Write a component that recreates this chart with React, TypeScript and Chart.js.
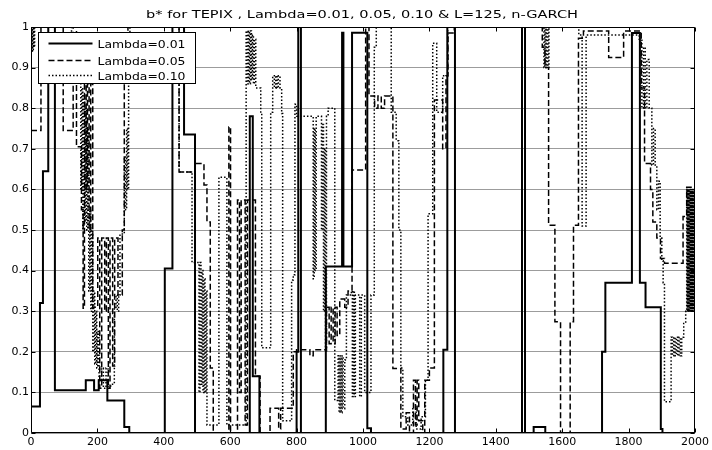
import { useEffect, useRef } from 'react';
import { Chart, registerables } from 'chart.js';

Chart.register(...registerables);

const chartTitle = 'b* for TEPIX , Lambda=0.01, 0.05, 0.10 & L=125, n-GARCH';
const seriesLabels = ['Lambda=0.01', 'Lambda=0.05', 'Lambda=0.10'];
const xTickLabels = ['0', '200', '400', '600', '800', '1000', '1200', '1400', '1600', '1800', '2000'];
const yTickLabels = ['0', '0.1', '0.2', '0.3', '0.4', '0.5', '0.6', '0.7', '0.8', '0.9', '1'];

// Step series: each value holds from its x until the next x.
const lambda001X = [
  0, 27, 36, 52, 72, 165, 190, 204, 230, 281,
  296, 403, 426, 461, 494, 659, 668, 688, 800, 805,
  813, 888, 937, 941, 967, 1013, 1024, 1242, 1254, 1277,
  1479, 1488, 1514, 1549, 1720, 1730, 1810, 1834, 1851, 1897,
  1902, 2000,
];
const lambda001Y = [
  0.065, 0.32, 0.645, 1, 0.105, 0.13, 0.105, 0.13, 0.08, 0.015,
  0, 0.405, 1, 0.735, 0, 0.78, 0.14, 0, 0.2, 1,
  0, 0.41, 0.986, 0.41, 0.986, 0.012, 0, 0.205, 1, 0,
  1, 0, 0.015, 0, 0.2, 0.37, 0.985, 0.37, 0.31, 0.01,
  0, 0,
];

const lambda005X = [
  0, 30, 97, 127, 137, 152, 157, 161, 166, 170,
  175, 180, 186, 201, 207, 213, 222, 227, 233, 238,
  246, 252, 262, 275, 281, 292, 446, 494, 521, 530,
  540, 549, 596, 601, 622, 628, 633, 645, 652, 676,
  690, 720, 746, 752, 790, 800, 840, 850, 890, 898,
  904, 910, 916, 922, 930, 945, 955, 967, 1008, 1018,
  1035, 1045, 1055, 1065, 1090, 1114, 1130, 1140, 1152, 1158,
  1163, 1168, 1180, 1186, 1200, 1215, 1240, 1250, 1256, 1275,
  1540, 1548, 1559, 1578, 1595, 1624, 1634, 1649, 1664, 1740,
  1785, 1838, 1848, 1866, 1873, 1885, 1896, 1908, 1964, 1975,
  2000,
];
const lambda005Y = [
  0.745, 1, 0.745, 1, 0.705, 0.55, 0.307, 0.86, 0.6, 0.86,
  0.5, 0.86, 0.31, 0.48, 0.11, 0.48, 0.3, 0.48, 0.11, 0.48,
  0.165, 0.48, 0.34, 0.5, 0.87, 1, 0.643, 0.664, 0.611, 0.52,
  0.16, 0, 0.754, 0, 0.574, 0.1, 0.574, 0.02, 0.574, 0.14,
  0, 0.061, 0.01, 0.061, 0.2, 0.205, 0.19, 0.205, 0.31, 0.22,
  0.31, 0.22, 0.31, 0.24, 0.33, 0.31, 0.35, 0.648, 1, 0.83,
  0.8, 0.83, 0.8, 0.83, 0.159, 0.01, 0.05, 0, 0.13, 0.02,
  0.13, 0.03, 0, 0.13, 0.16, 0.82, 0.7, 0.88, 0.985, 1,
  0.95, 0.9, 0.512, 0.274, 0, 0.274, 0.512, 0.972, 0.99, 0.925,
  0.99, 0.85, 0.664, 0.6, 0.52, 0.48, 0.43, 0.418, 0.533, 0.605,
  0.605,
];

const lambda010X = [
  0, 3, 5, 7, 9, 11, 122, 146, 150, 153,
  156, 159, 162, 165, 168, 171, 174, 177, 180, 183,
  186, 189, 192, 195, 198, 201, 205, 212, 218, 226,
  232, 240, 251, 256, 260, 264, 268, 281, 285, 288,
  291, 294, 298, 446, 485, 506, 509, 512, 515, 518,
  521, 524, 527, 530, 566, 590, 648, 652, 655, 658,
  661, 664, 667, 670, 673, 677, 692, 695, 722, 728,
  733, 737, 741, 745, 750, 755, 758, 785, 790, 795,
  800, 850, 853, 856, 859, 875, 878, 881, 884, 887,
  890, 895, 915, 925, 928, 931, 934, 937, 940, 945,
  950, 965, 968, 971, 974, 977, 990, 995, 1005, 1024,
  1034, 1040, 1085, 1100, 1108, 1114, 1120, 1135, 1150, 1160,
  1175, 1188, 1196, 1210, 1222, 1240, 1255, 1545, 1548, 1551,
  1554, 1557, 1560, 1650, 1660, 1672, 1832, 1840, 1845, 1850,
  1855, 1862, 1870, 1875, 1880, 1885, 1890, 1895, 1900, 1904,
  1908, 1928, 1932, 1936, 1940, 1944, 1948, 1952, 1956, 1960,
  1966, 1972, 1975, 1977, 1979, 1981, 1983, 1985, 1987, 1989,
  1991, 1993, 1995, 1997, 2000,
];
const lambda010Y = [
  0.94, 1, 0.94, 1, 0.95, 1, 0.88, 0.89, 0.6, 0.85,
  0.5, 0.83, 0.52, 0.8, 0.5, 0.75, 0.35, 0.55, 0.3, 0.5,
  0.2, 0.35, 0.17, 0.3, 0.16, 0.25, 0.13, 0.16, 0.11, 0.16,
  0.11, 0.12, 0.31, 0.34, 0.3, 0.34, 0.49, 0.68, 0.55, 0.75,
  0.6, 0.87, 1, 0.643, 0.42, 0.1, 0.42, 0.12, 0.4, 0.1,
  0.38, 0.1, 0.35, 0.02, 0.63, 0.02, 0.99, 0.86, 0.99, 0.86,
  0.99, 0.87, 0.98, 0.86, 0.97, 0.85, 0.787, 0.21, 0.79, 0.88,
  0.85, 0.88, 0.85, 0.88, 0.85, 0.787, 0.03, 0.377, 0.39, 0.81,
  0.78, 0.38, 0.75, 0.4, 0.78, 0.5, 0.76, 0.3, 0.7, 0.2,
  0.78, 0.8, 0.08, 0.19, 0.05, 0.19, 0.05, 0.19, 0.06, 0.18,
  0.34, 0.35, 0.09, 0.35, 0.09, 0.34, 0.09, 0.34, 0.1, 0.34,
  0.95, 1, 0.79, 0.72, 0.5, 0.16, 0.04, 0.02, 0.06, 0.01,
  0.04, 0.13, 0.54, 0.96, 0.79, 0.88, 1, 0.9, 1, 0.9,
  1, 0.9, 1, 0.98, 0.51, 0.98, 0.97, 0.8, 0.95, 0.8,
  0.92, 0.8, 0.66, 0.75, 0.66, 0.55, 0.62, 0.48, 0.424, 0.37,
  0.077, 0.236, 0.19, 0.236, 0.19, 0.236, 0.19, 0.236, 0.19, 0.236,
  0.27, 0.3, 0.6, 0.3, 0.6, 0.3, 0.6, 0.3, 0.6, 0.3,
  0.6, 0.3, 0.6, 0.3, 0.6,
];

function toPoints(xs: number[], ys: number[]) {
  const n = Math.min(xs.length, ys.length);
  const pts: { x: number; y: number }[] = [];
  for (let i = 0; i < n; i++) pts.push({ x: xs[i], y: ys[i] });
  return pts;
}

const FONT = '"DejaVu Sans", "Liberation Sans", Arial, sans-serif';

function drawStretched(ctx: CanvasRenderingContext2D, text: string, x: number, y: number, targetWidth: number) {
  const w = ctx.measureText(text).width || 1;
  const sx = targetWidth / w;
  ctx.save();
  ctx.translate(x, y);
  ctx.scale(sx, 1);
  ctx.textAlign = 'left';
  ctx.textBaseline = 'alphabetic';
  ctx.fillText(text, 0, 0);
  ctx.restore();
}

const matlabDecor = {
  id: 'matlabDecor',
  afterDatasetsDraw(chart: any) {
    const { ctx, chartArea: a } = chart;
    const xs = chart.scales.x;
    const ys = chart.scales.y;
    const L = Math.round(a.left) + 0.5;
    const R = Math.round(a.right) - 0.5;
    const T = Math.round(a.top) + 0.5;
    const B = Math.round(a.bottom) - 0.5;
    ctx.save();
    ctx.strokeStyle = '#000';
    ctx.lineWidth = 1;
    ctx.setLineDash([]);
    ctx.beginPath();
    ctx.rect(L, T, R - L, B - T);
    const tl = 4;
    xs.ticks.forEach((t: any) => {
      const p = Math.round(xs.getPixelForValue(t.value)) + 0.5;
      ctx.moveTo(p, B);
      ctx.lineTo(p, B - tl);
      ctx.moveTo(p, T);
      ctx.lineTo(p, T + tl);
    });
    ys.ticks.forEach((t: any) => {
      const p = Math.round(ys.getPixelForValue(t.value)) + 0.5;
      ctx.moveTo(L, p);
      ctx.lineTo(L + tl, p);
      ctx.moveTo(R, p);
      ctx.lineTo(R - tl, p);
    });
    ctx.stroke();

    // legend box (upper left, inside axes)
    const bx = L + 7;
    const by = T + 5;
    const bw = 157;
    const bh = 51;
    ctx.fillStyle = '#fff';
    ctx.fillRect(bx, by, bw, bh);
    ctx.strokeStyle = '#000';
    ctx.lineWidth = 1;
    ctx.strokeRect(bx, by, bw, bh);
    const rows = [11, 28, 43];
    ctx.font = `10.5px ${FONT}`;
    ctx.fillStyle = '#000';
    chart.data.datasets.forEach((ds: any, i: number) => {
      const yy = by + rows[i];
      ctx.save();
      ctx.strokeStyle = ds.borderColor;
      ctx.lineWidth = ds.borderWidth;
      ctx.setLineDash(ds.borderDash || []);
      ctx.beginPath();
      ctx.moveTo(bx + 10, yy);
      ctx.lineTo(bx + 54, yy);
      ctx.stroke();
      ctx.restore();
      drawStretched(ctx, ds.label, bx + 59, yy + 4.5, 88);
    });

    // title
    ctx.font = `11px ${FONT}`;
    ctx.fillStyle = '#000';
    const tw = 432;
    drawStretched(ctx, chartTitle, (a.left + a.right) / 2 - tw / 2 - 1, 17.5, tw);
    ctx.restore();
  },
};

export default function App() {
  const canvasRef = useRef<HTMLCanvasElement | null>(null);

  useEffect(() => {
    document.body.style.margin = '0';
    const canvas = canvasRef.current;
    if (!canvas) return;
    const styles = [
      { width: 2, dash: [] as number[], order: 3 },
      { width: 1.5, dash: [6, 3], order: 2 },
      { width: 1.5, dash: [1.5, 2], order: 1 },
    ];
    const series = [
      toPoints(lambda001X, lambda001Y),
      toPoints(lambda005X, lambda005Y),
      toPoints(lambda010X, lambda010Y),
    ];
    const chart = new Chart(canvas, {
      type: 'line',
      data: {
        datasets: series.map((pts, i) => ({
          label: seriesLabels[i],
          data: pts,
          stepped: true,
          borderColor: '#000',
          backgroundColor: '#000',
          borderWidth: styles[i].width,
          borderDash: styles[i].dash,
          pointRadius: 0,
          pointHoverRadius: 0,
          fill: false,
          tension: 0,
          order: styles[i].order,
        })),
      },
      plugins: [matlabDecor],
      options: {
        animation: false,
        responsive: true,
        maintainAspectRatio: false,
        devicePixelRatio: 1,
        events: [],
        layout: { padding: { top: 27, right: 14, left: 0, bottom: 0 } },
        plugins: {
          legend: { display: false },
          title: { display: false },
          tooltip: { enabled: false },
        },
        scales: {
          x: {
            type: 'linear',
            min: 0,
            max: 2000,
            grid: { display: false, drawTicks: false },
            border: { display: false },
            ticks: {
              stepSize: 200,
              autoSkip: false,
              maxRotation: 0,
              padding: 3,
              color: '#000',
              font: { family: FONT, size: 11 },
              callback: (_v: any, i: number) => xTickLabels[i],
            },
            afterFit: (s: any) => {
              s.height = 17;
            },
          },
          y: {
            type: 'linear',
            min: 0,
            max: 1,
            grid: { display: true, drawTicks: false, color: '#9c9c9c', lineWidth: 1 },
            border: { display: false },
            ticks: {
              stepSize: 0.1,
              autoSkip: false,
              padding: 2,
              color: '#000',
              font: { family: FONT, size: 11 },
              callback: (_v: any, i: number) => yTickLabels[i],
            },
            afterFit: (s: any) => {
              s.width = 31;
            },
          },
        },
      },
    });
    return () => chart.destroy();
  }, []);

  return (
    <div style={{ width: 712, height: 450, position: 'relative' }}>
      <canvas ref={canvasRef} />
    </div>
  );
}
